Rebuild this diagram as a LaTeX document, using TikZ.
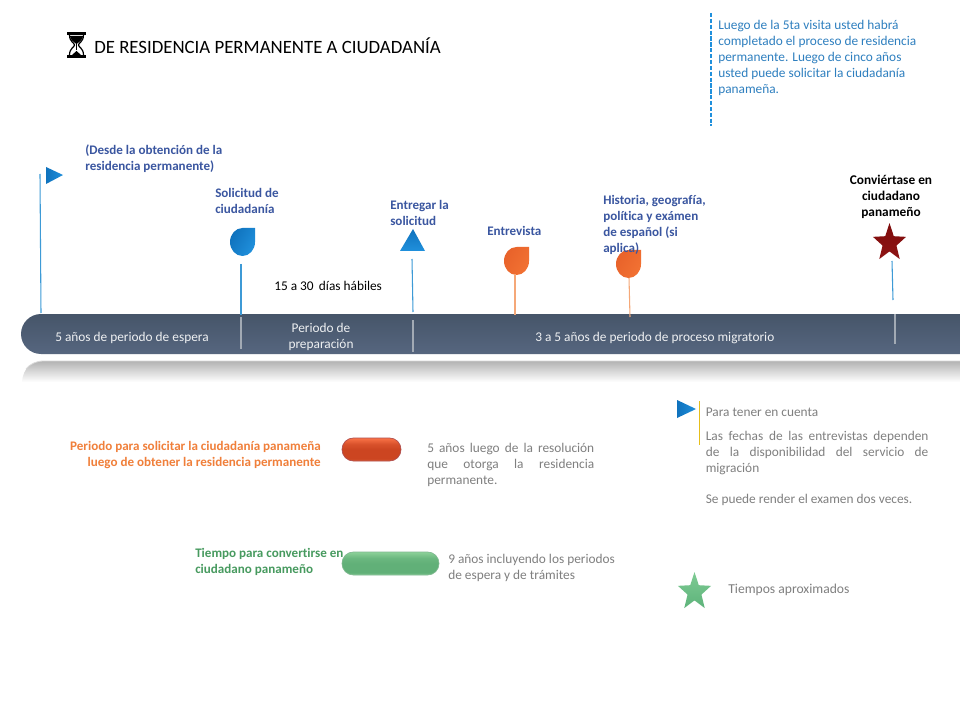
\documentclass[tikz,border=0pt]{standalone}
\usepackage{fontspec}
\setmainfont{Carlito}[Ligatures=NoCommon]
\definecolor{lblue}{HTML}{3A56A0}
\definecolor{tblue}{HTML}{2E7FBF}
\definecolor{gtext}{HTML}{7F7F7F}
\definecolor{otext}{HTML}{F07F3A}
\definecolor{grtext}{HTML}{479A5F}
\definecolor{barlight}{HTML}{56667F}
\definecolor{bardark}{HTML}{465569}
\definecolor{markdark}{HTML}{0F72BD}
\definecolor{marklight}{HTML}{2090DC}
\definecolor{orgdark}{HTML}{E8622A}
\definecolor{orglight}{HTML}{F27233}
\definecolor{stemb}{HTML}{3D9AD6}
\definecolor{stemo}{HTML}{F5A878}
\definecolor{stardark}{HTML}{7E0C0C}
\definecolor{starred}{HTML}{8E1414}
\definecolor{stargl}{HTML}{7FCB94}
\definecolor{stargd}{HTML}{5DB37A}
\pgfdeclareverticalshading{redpill}{100bp}{rgb(0bp)=(.86,.38,.22); rgb(25bp)=(.86,.38,.22); rgb(30bp)=(.80,.27,.13); rgb(50bp)=(.80,.27,.13); rgb(62bp)=(.85,.32,.17); rgb(75bp)=(.98,.45,.28); rgb(100bp)=(.98,.45,.28)}
\pgfdeclareverticalshading{greenpill}{100bp}{rgb(0bp)=(.55,.80,.60); rgb(25bp)=(.55,.80,.60); rgb(30bp)=(.38,.69,.47); rgb(50bp)=(.38,.69,.47); rgb(62bp)=(.42,.72,.50); rgb(75bp)=(.55,.82,.60); rgb(100bp)=(.55,.82,.60)}
\tikzset{
  x=0.75pt, y=-0.75pt,
  lbl/.style={anchor=west, inner sep=0pt, align=left, yshift=-0.75pt, font=\fontsize{10}{12}\selectfont},
  blue lbl/.style={lbl, text=lblue, font=\fontsize{9.8}{12}\selectfont\bfseries},
  gray lbl/.style={lbl, text=gtext},
  bar lbl/.style={lbl, text=white!90!barlight},
  stem blue/.style={draw=stemb, line width=0.8pt},
  stem orange/.style={draw=stemo, line width=0.8pt},
  divider/.style={draw=white!50!bardark, line width=1.1pt},
}
\newcommand{\dropmark}[5]{% name, cx, cy, dark, light
  \shade[left color=#4, right color=#5, shading angle=60]
    (#2+12.5,#3-14) -- (#2,#3-14) arc[start angle=90, end angle=360, x radius=12.5, y radius=-14] -- cycle;
  \node[inner sep=0pt, minimum width=25*0.75pt, minimum height=28*0.75pt] (#1) at (#2,#3) {};
}
\newcommand{\starmark}[5]{% name, cx, cy, top colour, bottom colour
  \begin{scope}[shift={(#2,#3)}]
  \shade[top color=#4, bottom color=#5]
    (-90:17.4 and 19.9) -- (-54:7.3 and 8.4)
    -- (-18:17.4 and 19.9) -- (18:7.3 and 8.4)
    -- (54:17.4 and 19.9) -- (90:7.3 and 8.4)
    -- (126:17.4 and 19.9) -- (162:7.3 and 8.4)
    -- (198:17.4 and 19.9) -- (234:7.3 and 8.4) -- cycle;
  \end{scope}
  \node[inner sep=0pt, minimum size=16pt] (#1) at (#2,#3) {};
}
\begin{document}
\begin{tikzpicture}
\useasboundingbox (0,0) rectangle (960,720);
\fill[white] (0,0) rectangle (960,720);

% hourglass
\fill[black] (67,32) rectangle (86,35);
\fill[black] (67,55) rectangle (86,58);
\draw[black, line width=0.9pt] (69.5,35) .. controls (69.5,42) and (74.5,42.5) .. (74.5,45) .. controls (74.5,47.5) and (69.5,48) .. (69.5,55);
\draw[black, line width=0.9pt] (83.5,35) .. controls (83.5,42) and (78.5,42.5) .. (78.5,45) .. controls (78.5,47.5) and (83.5,48) .. (83.5,55);
\fill[black] (70,36) -- (83,36) .. controls (83,40) and (79,42) .. (76.5,44) .. controls (74,42) and (70,40) .. (70,36) -- cycle;
\draw[black, line width=0.6pt] (76.5,44) -- (76.5,50);
\fill[black] (72,55) -- (76.5,51) -- (81,55) -- cycle;
\node[lbl, font=\fontsize{14.1}{16}\selectfont] (title) at (94,45) {DE RESIDENCIA PERMANENTE A CIUDADANÍA};

% top-right note
\coordinate (noteT) at (711,13);
\coordinate (noteB) at (711,126);
\draw[marklight, line width=0.8pt, dash pattern=on 3.2pt off 1.2pt] (noteT) -- (noteB);
\node[lbl, text=tblue] (note) at (718,57) {Luego de la 5ta visita usted habrá\\completado el proceso de residencia\\permanente. Luego de cinco años\\usted puede solicitar la ciudadanía\\panameña.};

% timeline bar
\shade[top color=bardark, bottom color=barlight] (960,314) -- (41,314) arc[start angle=90, end angle=270, x radius=20, y radius=-20] -- (960,354) -- cycle;
\shade[top color=black!30!white, bottom color=white] (960,361) -- (44,361) .. controls (32,361) and (23,368) .. (22,382) -- (960,382) -- cycle;
\draw[black!15!white, line width=0.6pt] (960,361) -- (44,361) .. controls (36,361) and (30,364) .. (26,369);
\draw[divider] (241,317) -- (241,349);
\draw[divider] (413,320) -- (413,352);
\draw[divider] (895,314) -- (895,344);
\node[bar lbl] (b1) at (55,337) {5 años de periodo de espera};
\node[bar lbl, align=center, anchor=center] (b2) at (321,336) {Periodo de\\preparación};
\node[bar lbl] (b3) at (535,337) {3 a 5 años de periodo de proceso migratorio};

% markers
\shade[left color=markdark, right color=marklight] (46,167) -- (63,175) -- (46,184) -- cycle;
\node[inner sep=0pt, minimum size=10pt] (flag) at (54,175) {};
\dropmark{d1}{242.5}{242}{markdark}{marklight}
\shade[top color=markdark, bottom color=marklight] (413,229) -- (425,251) -- (400,251) -- cycle;
\node[inner sep=0pt, minimum size=12pt] (tri) at (413,241) {};
\dropmark{d2}{516.5}{261}{orgdark}{orglight}
\dropmark{d3}{628.5}{264}{orgdark}{orglight}
\starmark{st1}{889.5}{243}{stardark}{starred}
\starmark{st2}{694.5}{592}{stargl}{stargd}

% stems
\coordinate (s0a) at (40,174); \coordinate (s0b) at (41,313);
\coordinate (s1a) at (241,264); \coordinate (s1b) at (241,315);
\coordinate (s2a) at (412,259); \coordinate (s2b) at (413,312);
\coordinate (s3a) at (515,274); \coordinate (s3b) at (515,315);
\coordinate (s4a) at (629,278); \coordinate (s4b) at (630,317);
\coordinate (s5a) at (892,261); \coordinate (s5b) at (893,300);
\draw[stem blue] (s0a) -- (s0b);
\draw[stem blue] (s1a) -- (s1b);
\draw[stem blue] (s2a) -- (s2b);
\draw[stem orange] (s3a) -- (s3b);
\draw[stem orange] (s4a) -- (s4b);
\draw[stem blue] (s5a) -- (s5b);

% labels above timeline
\node[blue lbl] (t0) at (85,158) {(Desde la obtención de la\\residencia permanente)};
\node[blue lbl] (t1) at (215,200) {Solicitud de\\ciudadanía};
\node[blue lbl] (t2) at (390,212) {Entregar la\\solicitud};
\node[blue lbl] (t3) at (487,230) {Entrevista};
\node[blue lbl] (t4) at (603,224) {Historia, geografía,\\política y exámen\\de español (si\\aplica)};
\node[lbl, align=center, anchor=center, font=\fontsize{10}{12}\selectfont\bfseries, text=black] (t5) at (891,196) {Conviértase en\\ciudadano\\panameño};
\node[lbl, text=black] (t6) at (274,285) {15 a 30\, días hábiles};

% legend left
\node[lbl, anchor=east, align=right, text=otext, font=\fontsize{9.8}{12}\selectfont\bfseries] (o1) at (321,454) {Periodo para solicitar la ciudadanía panameña\\luego de obtener la residencia permanente};
\node[draw=red!55!black!70!white, line width=0.5pt, rounded corners=8.5pt, minimum width=59*0.75pt, minimum height=23*0.75pt, inner sep=0pt, shading=redpill] (p1) at (371.5,449.5) {};
\node[lbl, anchor=north west, text width=125.25pt, text=gtext, align=justify] (o2) at (427,442) {5 años luego de la resolución\linebreak que otorga la residencia\linebreak permanente.};
\node[blue lbl, text=grtext] (g1) at (195,561) {Tiempo para convertirse en\\ciudadano panameño};
\node[draw=grtext!70!white, line width=0.5pt, rounded corners=8.5pt, minimum width=97*0.75pt, minimum height=23*0.75pt, inner sep=0pt, shading=greenpill] (p2) at (390.5,563.5) {};
\node[gray lbl] (g2) at (448,567) {9 años incluyendo los periodos\\de espera y de trámites};

% legend right
\shade[left color=markdark, right color=marklight] (677,400) -- (696,409) -- (677,418) -- cycle;
\node[inner sep=0pt, minimum size=10pt] (flag2) at (685,409) {};
\coordinate (yT) at (699.5,401); \coordinate (yB) at (699.5,445);
\draw[yellow!65!orange!90!black, line width=0.7pt] (yT) -- (yB);
\node[gray lbl] (r1) at (705.5,411) {Para tener en cuenta};
\node[lbl, anchor=north west, text width=167pt, text=gtext, align=justify] (r2) at (705.5,430) {Las fechas de las entrevistas dependen\linebreak de la disponibilidad del servicio de\linebreak migración};
\node[gray lbl] (r3) at (705.5,499) {Se puede render el examen dos veces.};
\node[gray lbl, font=\fontsize{10.2}{12}\selectfont] (r4) at (728,589) {Tiempos aproximados};
\end{tikzpicture}
\end{document}
